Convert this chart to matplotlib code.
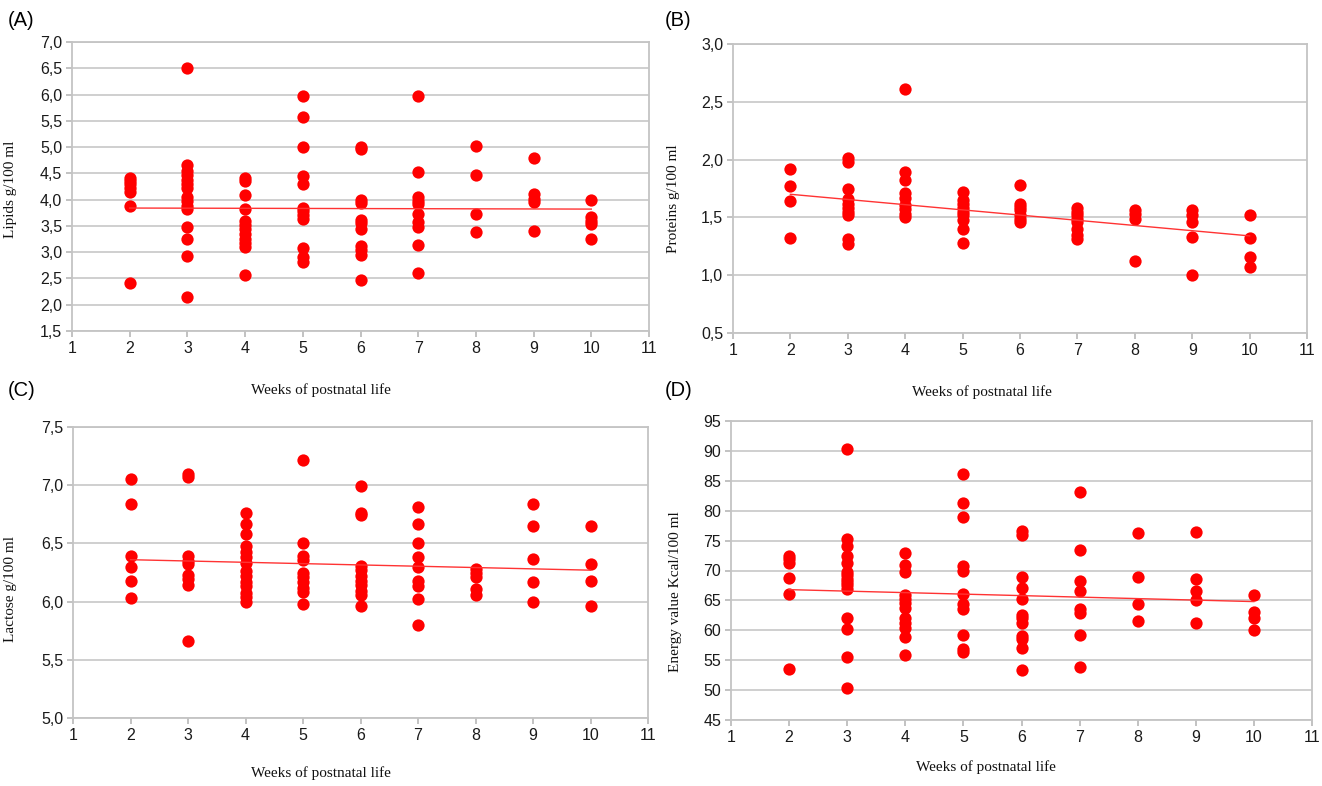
import matplotlib.pyplot as plt
from matplotlib.ticker import FuncFormatter, MultipleLocator

# values (one list per week, weeks 2..10)
weeks = [2, 3, 4, 5, 6, 7, 8, 9, 10]
trend_weeks = [2, 10]

lipids = [
    [4.41, 4.36, 4.30, 4.22, 4.15, 3.87, 2.42],
    [6.50, 4.65, 4.55, 4.47, 4.38, 4.30, 4.22, 4.05, 3.97, 3.88, 3.82, 3.47, 3.25, 2.92, 2.15],
    [4.41, 4.35, 4.08, 3.82, 3.60, 3.52, 3.44, 3.35, 3.26, 3.18, 3.10, 2.56],
    [5.97, 5.57, 5.00, 4.45, 4.30, 3.85, 3.78, 3.70, 3.63, 3.08, 2.90, 2.82],
    [5.00, 4.96, 3.99, 3.93, 3.62, 3.55, 3.45, 3.12, 3.04, 2.94, 2.47],
    [5.97, 4.53, 4.05, 3.98, 3.92, 3.72, 3.57, 3.48, 3.14, 2.60],
    [5.02, 4.47, 3.73, 3.38],
    [4.80, 4.10, 4.02, 3.95, 3.41],
    [4.00, 3.67, 3.59, 3.53, 3.25],
]
lipids_trend = [3.84, 3.82]

proteins = [
    [1.92, 1.77, 1.64, 1.32],
    [2.01, 1.98, 1.75, 1.66, 1.62, 1.58, 1.55, 1.52, 1.31, 1.27],
    [2.61, 1.89, 1.82, 1.71, 1.67, 1.61, 1.57, 1.53, 1.50],
    [1.72, 1.65, 1.62, 1.58, 1.55, 1.52, 1.48, 1.40, 1.28],
    [1.78, 1.62, 1.59, 1.56, 1.52, 1.49, 1.46],
    [1.58, 1.55, 1.52, 1.49, 1.46, 1.40, 1.35, 1.31],
    [1.56, 1.53, 1.49, 1.12],
    [1.56, 1.52, 1.46, 1.33, 1.00],
    [1.52, 1.32, 1.16, 1.07],
]
proteins_trend = [1.70, 1.34]

lactose = [
    [7.05, 6.84, 6.39, 6.30, 6.18, 6.03],
    [7.10, 7.07, 6.39, 6.35, 6.32, 6.23, 6.19, 6.14, 5.66],
    [6.76, 6.67, 6.58, 6.48, 6.43, 6.38, 6.33, 6.26, 6.22, 6.17, 6.13, 6.07, 6.04, 6.00],
    [7.22, 6.50, 6.39, 6.36, 6.25, 6.21, 6.17, 6.12, 6.08, 5.98],
    [6.99, 6.76, 6.74, 6.31, 6.27, 6.22, 6.18, 6.14, 6.09, 6.06, 5.96],
    [6.81, 6.67, 6.50, 6.38, 6.30, 6.18, 6.13, 6.02, 5.80],
    [6.28, 6.25, 6.21, 6.11, 6.06],
    [6.84, 6.65, 6.37, 6.17, 6.00],
    [6.65, 6.32, 6.18, 5.96],
]
lactose_trend = [6.36, 6.27]

energy = [
    [72.5, 71.9, 71.3, 68.8, 66.0, 53.6],
    [90.4, 75.3, 74.1, 72.4, 71.3, 69.8, 69.2, 68.6, 68.0, 67.5, 66.9, 62.0, 60.2, 55.5, 50.3],
    [72.9, 71.0, 69.7, 65.9, 65.2, 64.5, 63.8, 62.0, 61.2, 60.4, 58.9, 55.8],
    [86.2, 81.3, 79.0, 70.7, 70.0, 66.0, 64.4, 63.6, 59.2, 56.8, 56.3],
    [76.6, 75.9, 68.9, 67.0, 65.3, 62.6, 62.0, 61.3, 59.0, 58.5, 57.0, 53.4],
    [83.2, 73.4, 68.3, 66.6, 63.6, 62.9, 59.2, 53.9],
    [76.2, 68.9, 64.4, 61.6],
    [76.4, 68.5, 66.6, 65.0, 61.2],
    [65.9, 63.0, 62.1, 60.1],
]
energy_trend = [66.8, 64.8]

W, H = 1322, 786
fig = plt.figure(figsize=(W / 100, H / 100), dpi=100)

def px_rect(left, top, right, bottom):
    return [left / W, 1 - bottom / H, (right - left) / W, (bottom - top) / H]

def comma(v, pos):
    return f"{v:.1f}".replace(".", ",")

def draw_panel(rect, values, trend, ylim, ystep, decimals=True):
    ax = fig.add_axes(px_rect(*rect))
    for w, vals in zip(weeks, values):
        ax.scatter([w] * len(vals), vals, s=78, color="#ff0000", linewidths=0, zorder=3)
    ax.plot(trend_weeks, trend, color="#ff3333", lw=1.0, zorder=4)
    ax.set_xlim(1, 11)
    ax.set_ylim(*ylim)
    ax.xaxis.set_major_locator(MultipleLocator(1))
    ax.yaxis.set_major_locator(MultipleLocator(ystep))
    if decimals:
        ax.yaxis.set_major_formatter(FuncFormatter(comma))
    else:
        ax.yaxis.set_major_formatter(FuncFormatter(lambda v, p: f"{v:.0f}"))
    ax.grid(axis="y", color="#cccccc", lw=1.3)
    ax.set_axisbelow(True)
    for s in ax.spines.values():
        s.set_color("#c4c4c4")
        s.set_linewidth(1.3)
    ax.tick_params(axis="both", colors="#b8b8b8", labelcolor="#1a1a1a", length=4, width=1.2,
                   labelsize=11.5, pad=3)
    for lab in ax.get_xticklabels() + ax.get_yticklabels():
        lab.set_family("Liberation Sans")
    return ax

draw_panel((72, 42, 649, 331), lipids, lipids_trend, (1.5, 7.0), 0.5)
draw_panel((733, 44, 1307, 333), proteins, proteins_trend, (0.5, 3.0), 0.5)
draw_panel((73, 427, 648, 718), lactose, lactose_trend, (5.0, 7.5), 0.5)
draw_panel((731, 421, 1312, 720), energy, energy_trend, (45, 95), 5, decimals=False)

# panel letters
for txt, x, y in [("(A)", 8, 20), ("(B)", 665, 20), ("(C)", 8, 390), ("(D)", 665, 390)]:
    fig.text(x / W, 1 - y / H, txt, fontsize=14.5, family="Liberation Sans",
             ha="left", va="center")

# axis titles
serif = dict(family="Liberation Serif", fontsize=11, color="#111111")
for x, y in [(321, 390), (982, 392), (321, 773), (986, 767)]:
    fig.text(x / W, 1 - y / H, "Weeks of postnatal life", ha="center", va="center", **serif)
for txt, x, y in [("Lipids g/100 ml", 11, 189), ("Proteins g/100 ml", 674, 199),
                  ("Lactose g/100 ml", 11, 589), ("Energy value Kcal/100 ml", 676, 592)]:
    fig.text(x / W, 1 - y / H, txt, rotation=90, ha="center", va="center", **serif)

fig.savefig("out.png", dpi=100)
